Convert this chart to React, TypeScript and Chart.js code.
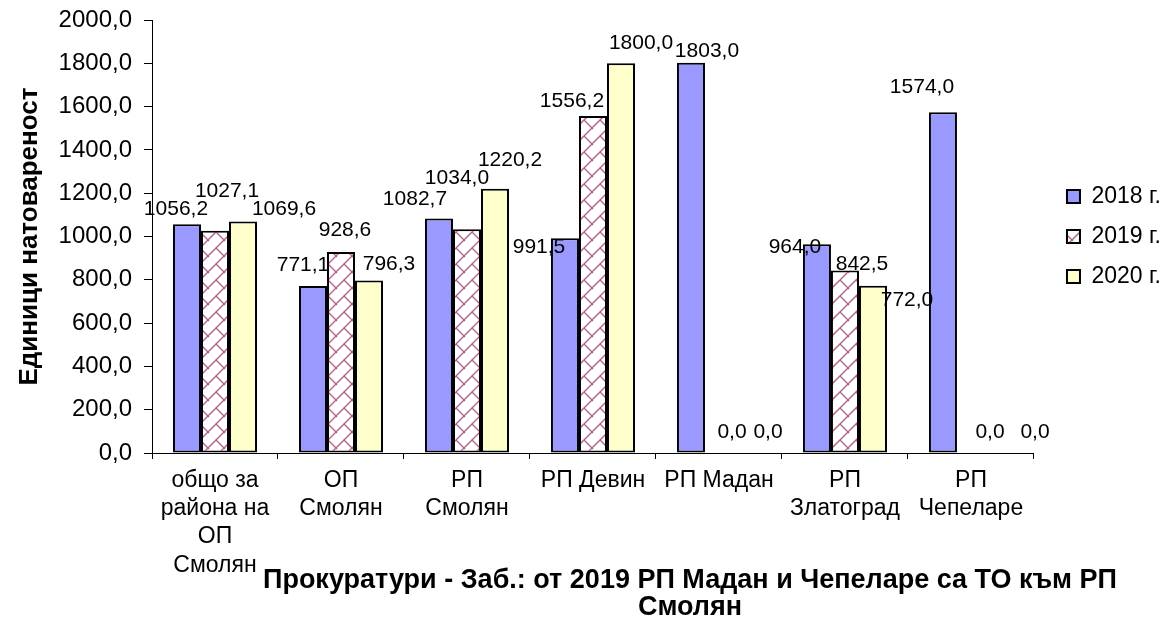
import React, { useEffect, useRef } from "react";
import { Chart, registerables } from "chart.js";

Chart.register(...registerables);

const categories: (string | string[])[] = [
  ["общо за", "района на", "ОП", "Смолян"],
  ["ОП", "Смолян"],
  ["РП", "Смолян"],
  "РП Девин",
  "РП Мадан",
  ["РП", "Златоград"],
  ["РП", "Чепеларе"],
];
const seriesNames = ["2018 г.", "2019 г.", "2020 г."];
const values2018 = [1056.2, 771.1, 1082.7, 991.5, 1803.0, 964.0, 1574.0];
const values2019 = [1027.1, 928.6, 1034.0, 1556.2, 0.0, 842.5, 0.0];
const values2020 = [1069.6, 796.3, 1220.2, 1800.0, 0.0, 772.0, 0.0];
const yMin = 0;
const yMax = 2000;
const yStep = 200;
const yAxisTitle = "Единици натовареност";
const xAxisTitle = [
  "Прокуратури - Заб.: от 2019 РП Мадан и Чепеларе са ТО към РП",
  "Смолян",
];

// label nudges (pixels relative to the default spot above each bar), per series
const labelNudgeX = [
  [-11, -10, -24, -26, 16, -22, -21],
  [12, 4, -10, -21, 13, 17, 19],
  [41, 20, 15, 20, 21, 34, 36],
];
const labelNudgeY = [
  [5, -1, 1, 29, 9, 23, -5],
  [-19, -2, -31, 5, -1, 14, -1],
  [8, 4, -9, 0, -1, 34, -1],
];

const FONT = "'Liberation Sans', Arial, Helvetica, sans-serif";
const fmt = (v: number) => v.toFixed(1).replace(".", ",");

function makeHatch(): CanvasPattern | string {
  const c = document.createElement("canvas");
  c.width = 16;
  c.height = 16;
  const g = c.getContext("2d");
  if (!g) return "#ffffff";
  g.fillStyle = "#ffffff";
  g.fillRect(0, 0, 16, 16);
  g.strokeStyle = "#B65C90";
  g.lineWidth = 1.4;
  g.beginPath();
  g.moveTo(-2, 18);
  g.lineTo(18, -2);
  g.moveTo(8, 8);
  g.lineTo(17, 17);
  g.moveTo(-1, -1);
  g.lineTo(1, 1);
  g.stroke();
  return g.createPattern(c, "repeat") || "#ffffff";
}

const valueLabels = {
  id: "valueLabels",
  afterDatasetsDraw(chart: any) {
    const ctx = chart.ctx;
    ctx.save();
    ctx.font = `21px ${FONT}`;
    ctx.fillStyle = "#000";
    ctx.textAlign = "center";
    ctx.textBaseline = "middle";
    chart.data.datasets.forEach((ds: any, di: number) => {
      const meta = chart.getDatasetMeta(di);
      meta.data.forEach((bar: any, i: number) => {
        const v = ds.data[i];
        ctx.fillText(
          fmt(v),
          bar.x + labelNudgeX[di][i],
          bar.y - 20 + labelNudgeY[di][i]
        );
      });
    });
    ctx.restore();
  },
};

const xTitle = {
  id: "xTitle",
  afterDraw(chart: any) {
    const ctx = chart.ctx;
    const area = chart.chartArea;
    ctx.save();
    ctx.font = `bold 27px ${FONT}`;
    ctx.fillStyle = "#000";
    ctx.textAlign = "center";
    ctx.textBaseline = "middle";
    const cx = (area.left + area.right) / 2 + 97;
    xAxisTitle.forEach((line, i) => {
      ctx.fillText(line, cx, area.bottom + 128 + i * 27);
    });
    ctx.restore();
  },
};

const legendPlace = {
  id: "legendPlace",
  afterLayout(chart: any) {
    const lg = chart.legend;
    const a = chart.chartArea;
    if (!lg) return;
    const w = lg.right - lg.left;
    lg.left = a.right + 16;
    lg.right = lg.left + w;
    lg.top = a.top;
    lg.bottom = a.bottom;
    lg.height = a.bottom - a.top;
  },
};

export default function App() {
  const ref = useRef<HTMLCanvasElement | null>(null);
  useEffect(() => {
    if (!ref.current) return;
    const hatch = makeHatch();
    const common = {
      borderColor: "#000000",
      borderWidth: 2,
      borderSkipped: false,
      categoryPercentage: 0.667,
      barPercentage: 1.0,
    };
    const chart = new Chart(ref.current, {
      type: "bar",
      data: {
        labels: categories,
        datasets: [
          { label: seriesNames[0], data: values2018, backgroundColor: "#9999FF", ...common },
          { label: seriesNames[1], data: values2019, backgroundColor: hatch, ...common },
          { label: seriesNames[2], data: values2020, backgroundColor: "#FFFFCC", ...common },
        ],
      },
      options: {
        animation: false,
        responsive: true,
        maintainAspectRatio: false,
        layout: { padding: { top: 20, right: 21, bottom: 0, left: 0 } },
        plugins: {
          tooltip: { enabled: false },
          legend: {
            position: "right",
            labels: {
              boxWidth: 13,
              boxHeight: 13,
              padding: 17,
              color: "#000",
              font: { family: FONT, size: 23 },
            },
          },
        },
        scales: {
          x: {
            offset: true,
            grid: {
              display: true,
              offset: true,
              drawOnChartArea: false,
              drawTicks: true,
              tickLength: 6,
              color: "#000",
            },
            border: { display: true, color: "#000", width: 1 },
            ticks: {
              color: "#000",
              maxRotation: 0,
              autoSkip: false,
              padding: 8,
              font: { family: FONT, size: 23, lineHeight: 1.22 },
            },
            afterFit: (s: any) => {
              s.height = 168;
              s.paddingLeft = 0;
              s.paddingRight = 0;
            },
          },
          y: {
            min: yMin,
            max: yMax,
            grid: {
              display: true,
              drawOnChartArea: false,
              drawTicks: true,
              tickLength: 8,
              color: "#000",
            },
            border: { display: true, color: "#000", width: 1 },
            ticks: {
              stepSize: yStep,
              color: "#000",
              padding: 12,
              font: { family: FONT, size: 24 },
              callback: (v: any) => fmt(Number(v)),
            },
            title: {
              display: true,
              text: yAxisTitle,
              color: "#000",
              font: { family: FONT, size: 26, weight: "bold" },
              padding: { top: 14, bottom: 0 },
            },
            afterFit: (s: any) => {
              s.width = 152;
              s.paddingTop = 0;
              s.paddingBottom = 0;
            },
          },
        },
      },
      plugins: [valueLabels, xTitle, legendPlace],
    } as any);
    return () => chart.destroy();
  }, []);
  return (
    <div style={{ position: "absolute", left: 0, top: 0, width: 1176, height: 621, background: "#fff" }}>
      <canvas ref={ref} />
    </div>
  );
}
